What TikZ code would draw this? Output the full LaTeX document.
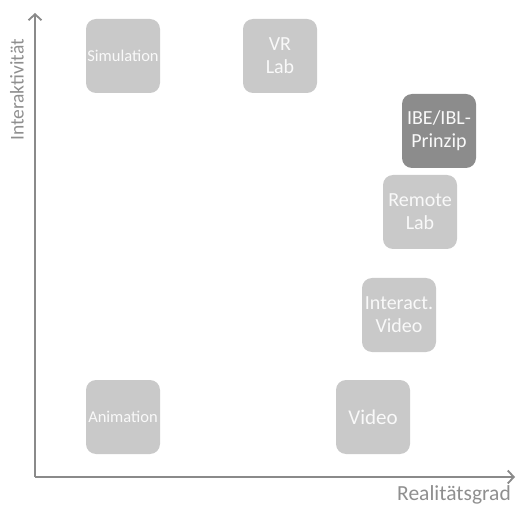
\documentclass[tikz,border=0pt]{standalone}
\usepackage{fontspec}
\setmainfont{Carlito}
\usetikzlibrary{arrows.meta}
\definecolor{boxgray}{HTML}{C9C9C9}
\definecolor{darkbox}{HTML}{8C8C8C}
\definecolor{axisgray}{HTML}{8A8A8A}
\definecolor{labelgray}{HTML}{8F8F8F}
\begin{document}
\begin{tikzpicture}[x=1pt,y=-1pt,
  card/.style={fill=boxgray,rounded corners=10pt,minimum width=74pt,minimum height=74pt,
    inner sep=0pt,text=white!95!gray,align=center,font=\fontsize{20}{23}\selectfont},
  smallcard/.style={card,font=\fontsize{16.5}{19}\selectfont},
  darkcard/.style={card,fill=darkbox},
  axis/.style={draw=axisgray,line width=1.8pt,-{Straight Barb[length=6pt,width=13pt,line width=1.8pt]}},
  axlabel/.style={text=labelgray,inner sep=0pt}]
\useasboundingbox (0,0) rectangle (517,505);
\coordinate (O) at (35,477);
\coordinate (Ytip) at (35,13);
\coordinate (Xtip) at (515,477);
\draw[axis] (O) -- (Ytip);
\draw[axis] (O) -- (Xtip);
\node[axlabel,rotate=90,font=\fontsize{19.5}{22}\selectfont] (ylab) at (17,90) {Interaktivität};
\node[axlabel,font=\fontsize{21.5}{24}\selectfont] (xlab) at (454,495) {Realitätsgrad};
\node[smallcard] (sim) at (123,56) {Simulation};
\node[card] (vr) at (280,56) {VR\\Lab};
\node[darkcard] (ibe) at (439,131) {IBE/IBL-\\Prinzip};
\node[card] (remote) at (420,212) {Remote\\Lab};
\node[card] (ivideo) at (399,315) {Interact.\\Video};
\node[card,font=\fontsize{21}{24}\selectfont] (video) at (373,417) {Video};
\node[smallcard] (anim) at (123,417) {Animation};
\end{tikzpicture}
\end{document}
